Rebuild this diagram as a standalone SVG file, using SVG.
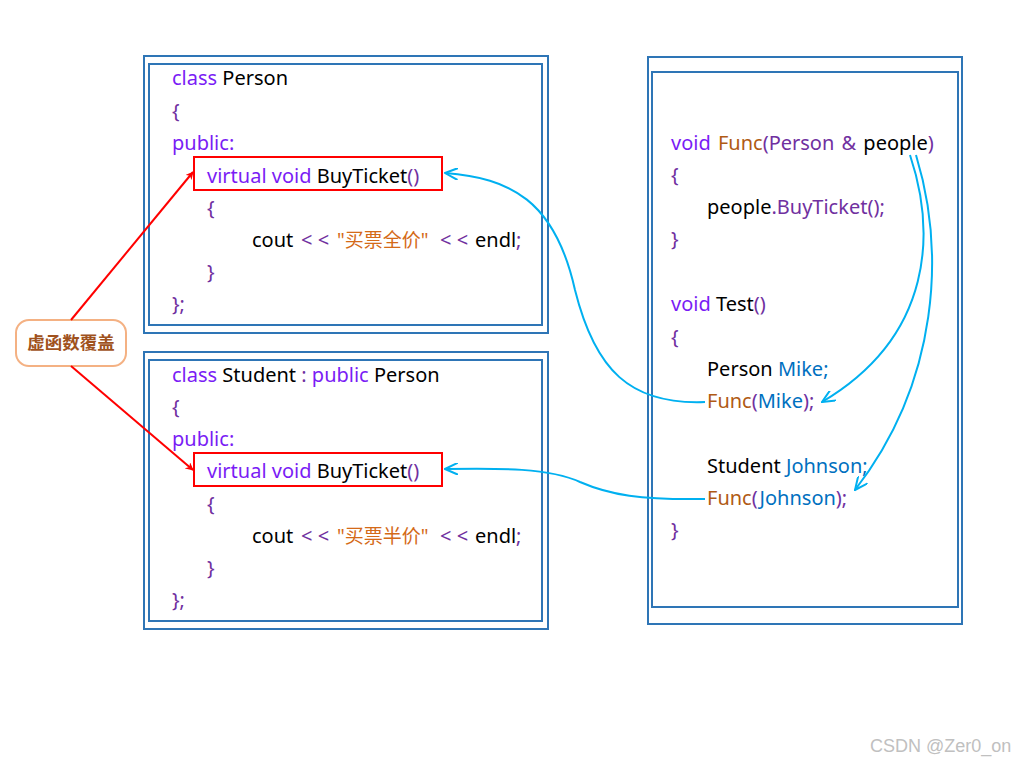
<svg xmlns="http://www.w3.org/2000/svg" width="1016" height="764" viewBox="0 0 1016 764">
<defs>
<style>
.box{fill:none;stroke:#2e75b6;stroke-width:2}
.code{font-family:"Noto Sans","Noto Sans CJK SC",sans-serif;font-size:20px;fill:#000}
.kw{fill:#7a1cf5}
.br{fill:#7030a0}
.st{fill:#d46a18;font-size:19px}
.fn{fill:#b05a14}
.vr{fill:#0070c0}
.red{fill:none;stroke:#ff0000;stroke-width:2}
.rarr{fill:none;stroke:#ff0000;stroke-width:2}
.barr{fill:none;stroke:#00b0f0;stroke-width:2}
</style>
<marker id="ra" viewBox="0 0 10 10" refX="9" refY="5" markerWidth="8" markerHeight="8" orient="auto" markerUnits="userSpaceOnUse">
<path d="M0,0 L10,5 L0,10 L3,5 Z" fill="#ff0000"/>
</marker>
<marker id="ba" viewBox="0 0 14 12" refX="13" refY="6" markerWidth="14" markerHeight="12" orient="auto" markerUnits="userSpaceOnUse">
<path d="M0,0 L13,6 L0,12" fill="none" stroke="#00b0f0" stroke-width="2"/>
</marker>
</defs>
<rect width="1016" height="764" fill="#fff"/>

<g id="person">
<rect class="box" x="144" y="56" width="404" height="277"/>
<rect class="box" x="149" y="64" width="393" height="261"/>
<rect class="red" x="194" y="157" width="248" height="33"/>
<text class="code" xml:space="preserve"><tspan x="172" y="85"><tspan class="kw">class</tspan> Person</tspan><tspan x="172" y="118" class="br">{</tspan><tspan x="172" y="150" class="kw">public:</tspan><tspan x="207" y="183"><tspan class="kw">virtual void</tspan> BuyTicket<tspan class="br">()</tspan></tspan><tspan x="207" y="215" class="br">{</tspan><tspan x="252" y="247">cout</tspan><tspan x="301" y="247" class="br">&lt; &lt;</tspan><tspan x="337" y="247" class="st">"买票全价"</tspan><tspan x="440" y="247" class="br">&lt; &lt;</tspan><tspan x="475" y="247">endl<tspan class="br">;</tspan></tspan><tspan x="207" y="279" class="br">}</tspan><tspan x="172" y="311" class="br">};</tspan></text>
</g>

<g id="student">
<rect class="box" x="144" y="352" width="404" height="277"/>
<rect class="box" x="149" y="360" width="393" height="261"/>
<rect class="red" x="194" y="453" width="248" height="33"/>
<text class="code" xml:space="preserve"><tspan x="172" y="382"><tspan class="kw">class</tspan> Student <tspan class="br">:</tspan> <tspan class="kw">public</tspan> Person</tspan><tspan x="172" y="414" class="br">{</tspan><tspan x="172" y="446" class="kw">public:</tspan><tspan x="207" y="478"><tspan class="kw">virtual void</tspan> BuyTicket<tspan class="br">()</tspan></tspan><tspan x="207" y="511" class="br">{</tspan><tspan x="252" y="543">cout</tspan><tspan x="301" y="543" class="br">&lt; &lt;</tspan><tspan x="337" y="543" class="st">"买票半价"</tspan><tspan x="440" y="543" class="br">&lt; &lt;</tspan><tspan x="475" y="543">endl<tspan class="br">;</tspan></tspan><tspan x="207" y="575" class="br">}</tspan><tspan x="172" y="607" class="br">};</tspan></text>
</g>

<g id="test">
<rect class="box" x="648" y="57" width="314" height="567"/>
<rect class="box" x="652" y="72" width="306" height="535"/>
<text class="code" xml:space="preserve"><tspan x="671" y="150" word-spacing="2"><tspan class="kw">void</tspan> <tspan class="fn">Func</tspan><tspan class="br">(Person &amp;</tspan> people<tspan class="br">)</tspan></tspan><tspan x="671" y="182" class="br">{</tspan><tspan x="707" y="214">people<tspan class="br">.BuyTicket();</tspan></tspan><tspan x="671" y="246" class="br">}</tspan><tspan x="671" y="311"><tspan class="kw">void</tspan> Test<tspan class="br">()</tspan></tspan><tspan x="671" y="344" class="br">{</tspan><tspan x="707" y="376">Person <tspan class="vr">Mike;</tspan></tspan><tspan x="707" y="408"><tspan class="fn">Func</tspan><tspan class="br">(</tspan><tspan class="vr">Mike</tspan><tspan class="br">);</tspan></tspan><tspan x="707" y="473">Student <tspan class="vr">Johnson;</tspan></tspan><tspan x="707" y="505"><tspan class="fn">Func</tspan><tspan class="br">(</tspan><tspan class="vr">Johnson</tspan><tspan class="br">);</tspan></tspan><tspan x="671" y="537" class="br">}</tspan></text>
</g>

<g id="label">
<rect x="16" y="320" width="110" height="46" rx="13" fill="#fff" stroke="#f4b183" stroke-width="2"/>
<text x="71" y="349" text-anchor="middle" font-family="Noto Sans CJK SC,sans-serif" font-size="17.5" font-weight="bold" fill="#a0521d">虚函数覆盖</text>
</g>

<g id="connectors">
<line class="rarr" x1="71" y1="320" x2="193" y2="172" marker-end="url(#ra)"/>
<line class="rarr" x1="71" y1="366" x2="193" y2="470" marker-end="url(#ra)"/>
<path class="barr" d="M705,402 C630,405 595,370 575,290 C555,200 510,178 445,173" marker-end="url(#ba)"/>
<path class="barr" d="M705,499 C640,500 610,495 580,482 C550,468 500,468 445,469" marker-end="url(#ba)"/>
<path class="barr" d="M910,155 C935,230 935,335 822,402" marker-end="url(#ba)"/>
<path class="barr" d="M916,155 C945,250 940,380 855,490" marker-end="url(#ba)"/>
</g>

<text x="870" y="752" font-family="Liberation Sans,sans-serif" font-size="18" fill="#c0c0c0">CSDN @Zer0_on</text>
</svg>
